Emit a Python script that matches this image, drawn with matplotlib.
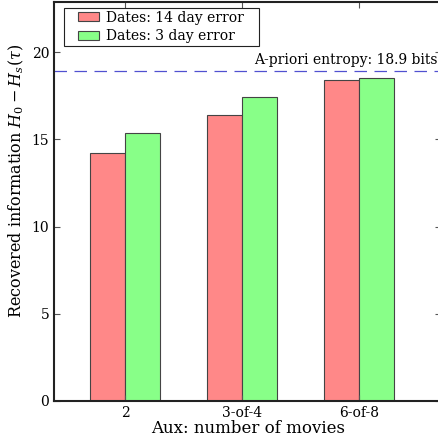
import matplotlib
matplotlib.use('Agg')
import matplotlib.pyplot as plt
from matplotlib.patches import Rectangle
import numpy as np

plt.rcParams['font.family'] = 'DejaVu Serif'
plt.rcParams['mathtext.fontset'] = 'dejavuserif'

categories = ['2', '3-of-4', '6-of-8']
err_14_day = [14.25, 16.38, 18.39]
err_3_day = [15.38, 17.41, 18.50]
labels = ['Dates: 14 day error', 'Dates: 3 day error']
entropy = 18.9

fig = plt.figure(figsize=(4.39, 4.42), dpi=100)
ax = fig.add_axes([0.123, 0.093, 0.882, 0.903])

x = np.arange(len(categories))
width = 0.3
ax.bar(x - width / 2, err_14_day, width, color='#ff8888', edgecolor='#444444',
       linewidth=0.8, label=labels[0])
ax.bar(x + width / 2, err_3_day, width, color='#88ff88', edgecolor='#444444',
       linewidth=0.8, label=labels[1])

ax.axhline(entropy, color='#5050d0', linestyle='--', dashes=(10, 6), linewidth=0.9)
ax.text(2.67, entropy + 0.25, 'A-priori entropy: %.1f bits' % entropy,
        ha='right', va='bottom', fontsize=10)

ax.set_xlim(-0.61, 2.7)
ax.set_ylim(0, 22.9)
ax.set_xticks(x)
ax.set_xticklabels(categories)
ax.set_yticks([0, 5, 10, 15, 20])
ax.tick_params(direction='in', top=True, right=True, labelsize=10, length=4,
               color='#555555')
for s in ax.spines.values():
    s.set_linewidth(1.5)
    s.set_color('#222222')

ax.set_xlabel('Aux: number of movies', fontsize=12, labelpad=0)
ax.set_ylabel(r'Recovered information $H_0 - H_s(\tau)$', fontsize=11.5)
ax.yaxis.set_label_coords(-0.072, 0.55)

# legend without its own frame, box drawn wider by hand
leg = ax.legend(loc='upper left', fontsize=10, frameon=False,
                bbox_to_anchor=(0.056, 0.985), borderaxespad=0,
                handlelength=1.5, handleheight=0.65, handletextpad=0.5,
                borderpad=0.2, labelspacing=0.35)
for h in leg.legend_handles:
    h.set_edgecolor('#444444')
    h.set_linewidth(0.8)

fig.canvas.draw()
bb = leg.get_window_extent()
box = Rectangle((bb.x0 - 12, bb.y0), bb.width + 24, bb.height,
                transform=None, fill=False, edgecolor='#222222', linewidth=0.8,
                zorder=5)
fig.add_artist(box)

plt.savefig('out.png', dpi=100)
